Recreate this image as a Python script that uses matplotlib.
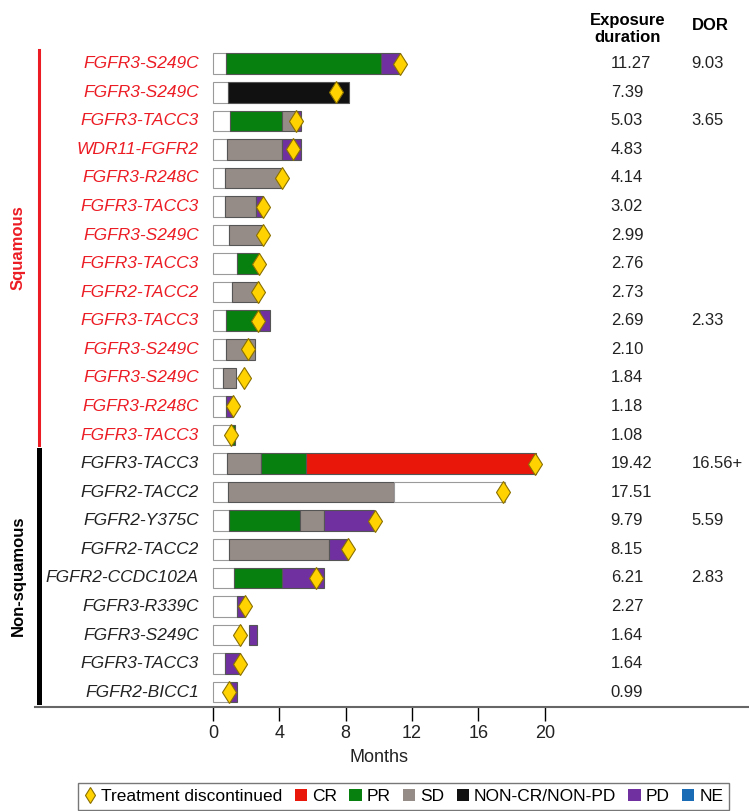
import matplotlib
matplotlib.use("Agg")
import matplotlib.pyplot as plt
import matplotlib.transforms as mtransforms
from matplotlib.patches import Patch
from matplotlib.lines import Line2D

plt.rcParams['font.family'] = ['Liberation Sans', 'DejaVu Sans']

# ---- data ----
genes = ["FGFR3-S249C", "FGFR3-S249C", "FGFR3-TACC3", "WDR11-FGFR2", "FGFR3-R248C",
         "FGFR3-TACC3", "FGFR3-S249C", "FGFR3-TACC3", "FGFR2-TACC2", "FGFR3-TACC3",
         "FGFR3-S249C", "FGFR3-S249C", "FGFR3-R248C", "FGFR3-TACC3",
         "FGFR3-TACC3", "FGFR2-TACC2", "FGFR2-Y375C", "FGFR2-TACC2", "FGFR2-CCDC102A",
         "FGFR3-R339C", "FGFR3-S249C", "FGFR3-TACC3", "FGFR2-BICC1"]
n_squamous = 14

# segment boundaries (months) and response status of each segment
seg_edges = [
    [0, 0.78, 10.12, 11.27],
    [0, 0.92, 8.2],
    [0, 1.02, 4.17, 5.07, 5.3],
    [0, 0.85, 4.15, 5.3],
    [0, 0.73, 4.1],
    [0, 0.73, 2.6, 3.0],
    [0, 0.96, 3.0],
    [0, 1.43, 2.79],
    [0, 1.17, 2.74],
    [0, 0.75, 2.84, 3.45],
    [0, 0.75, 2.5],
    [0, 0.57, 1.37],
    [0, 0.79, 1.23],
    [0, 1.03, 1.31],
    [0, 0.83, 2.87, 5.62, 19.45],
    [0, 0.9, 10.9, 17.6],
    [0, 0.97, 5.27, 6.68, 9.72],
    [0, 0.93, 6.99, 8.16],
    [0, 1.27, 4.16, 6.7],
    [0, 1.43, 1.9],
    [0, 1.66, 2.14, 2.65],
    [0, 0.73, 1.63],
    [0, 0.93, 1.43],
]
seg_status = [
    ["W", "PR", "PD"],
    ["W", "NCR"],
    ["W", "PR", "SD", "PD"],
    ["W", "SD", "PD"],
    ["W", "SD"],
    ["W", "SD", "PD"],
    ["W", "SD"],
    ["W", "PR"],
    ["W", "SD"],
    ["W", "PR", "PD"],
    ["W", "SD"],
    ["W", "SD"],
    ["W", "PD"],
    ["W", "PR"],
    ["W", "SD", "PR", "CR"],
    ["W", "SD", "W"],
    ["W", "PR", "SD", "PD"],
    ["W", "SD", "PD"],
    ["W", "PR", "PD"],
    ["W", "PD"],
    ["W", "gap", "PD"],
    ["W", "PD"],
    ["W", "PD"],
]
stopped = [11.27, 7.39, 5.03, 4.83, 4.14, 3.02, 2.99, 2.76, 2.73, 2.69, 2.10, 1.84, 1.18, 1.08,
           19.42, 17.51, 9.79, 8.15, 6.21, 1.92, 1.64, 1.64, 0.93]
exposure = ["11.27", "7.39", "5.03", "4.83", "4.14", "3.02", "2.99", "2.76", "2.73", "2.69",
            "2.10", "1.84", "1.18", "1.08", "19.42", "17.51", "9.79", "8.15", "6.21", "2.27",
            "1.64", "1.64", "0.99"]
dor = ["9.03", "", "3.65", "", "", "", "", "", "", "2.33", "", "", "", "",
       "16.56+", "", "5.59", "", "2.83", "", "", "", ""]
x_ticks = [0, 4, 8, 12, 16, 20]
legend_keys = ["CR", "PR", "SD", "NCR", "PD", "NE"]
legend_labels = ["CR", "PR", "SD", "NON-CR/NON-PD", "PD", "NE"]

colors = {"W": "white", "CR": "#e8170a", "PR": "#07800f", "SD": "#968c87",
          "NCR": "#111111", "PD": "#7030a0", "NE": "#1a6bb5"}
red = "#ec1c24"

fig = plt.figure(figsize=(7.49, 8.11), dpi=100)
ax = fig.add_axes([35/749, 104/811, 714/749, 667/811])

for i in range(len(genes)):
    edges = seg_edges[i]
    for a, b, s in zip(edges[:-1], edges[1:], seg_status[i]):
        if s == "gap":
            continue
        ec = "#9a9a9a" if s == "W" else "#555555"
        ax.barh(i, b - a, left=a, height=0.72, color=colors[s], edgecolor=ec,
                linewidth=0.8, zorder=2)

ax.plot(stopped, range(len(genes)), ls="none", marker="d", ms=11.5,
        mfc="#ffd200", mec="#8a7000", mew=0.8, zorder=3)

for i, g in enumerate(genes):
    c = red if i < n_squamous else "#222222"
    ax.text(-0.85, i, g, ha="right", va="center", style="italic", fontsize=12.5, color=c)
    ax.text(23.98, i, exposure[i], ha="left", va="center", fontsize=12, color="#222222")
    if dor[i]:
        ax.text(28.84, i, dor[i], ha="left", va="center", fontsize=12, color="#222222")

fig.text(628/749, 1 - 20/811, "Exposure", ha="center", va="center", fontsize=12, weight="bold")
fig.text(628/749, 1 - 38/811, "duration", ha="center", va="center", fontsize=12, weight="bold")
fig.text(710/749, 1 - 26/811, "DOR", ha="center", va="center", fontsize=12, weight="bold")

# group brackets
trans = mtransforms.blended_transform_factory(fig.transFigure, ax.transData)
ax.plot([38.5/749]*2, [-0.48, 13.35], color=red, lw=2.2, transform=trans, clip_on=False)
ax.plot([38.5/749]*2, [13.52, 22.34], color="black", lw=3.6, transform=trans, clip_on=False)
ax.text(18/749, (-0.48 + 13.35)/2, "Squamous", transform=trans, rotation=90, ha="center",
        va="center", weight="bold", color=red, fontsize=12)
ax.text(18/749, (13.52 + 22.34)/2, "Non-squamous", transform=trans, rotation=90, ha="center",
        va="center", weight="bold", color="black", fontsize=12)

ax.set_xlim(-10.74, 32.32)
ax.set_ylim(22.52, -0.829)
ax.set_xticks(x_ticks)
ax.set_yticks([])
ax.tick_params(axis="x", direction="out", length=10, width=1, pad=3, labelsize=13,
               labelcolor="#222222")
for sp in ["left", "top", "right"]:
    ax.spines[sp].set_visible(False)
ax.spines["bottom"].set_color("#666666")
ax.spines["bottom"].set_linewidth(1.5)
ax.annotate("Months", xy=(10, 0), xycoords=("data", "axes fraction"), xytext=(0, -36),
            textcoords="offset points", ha="center", va="center", fontsize=13, color="#222222")

handles = [Line2D([], [], ls="none", marker="d", ms=8, mfc="#ffd200", mec="#8a7000",
                  mew=0.8, label="Treatment discontinued")]
handles += [Patch(facecolor=colors[k], label=l) for k, l in zip(legend_keys, legend_labels)]
fig.legend(handles=handles, loc="upper left", bbox_to_anchor=(78/749, 1 - 783/811), ncol=7,
           fontsize=12.5, frameon=True, fancybox=False, edgecolor="#555555", handlelength=0.7,
           handleheight=0.7, handletextpad=0.3, columnspacing=0.7, borderpad=0.35,
           borderaxespad=0)

fig.savefig("out.png", dpi=100)
